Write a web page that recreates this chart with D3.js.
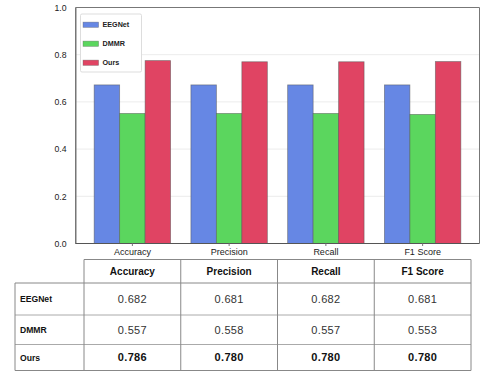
<!DOCTYPE html>
<html>
<head>
<meta charset="utf-8">
<script src="https://cdn.jsdelivr.net/npm/d3@7"></script>
<style>
  body { margin: 0; background: #fff; }
  svg { display: block; }
</style>
</head>
<body>
<svg id="chart" width="499" height="383"></svg>
<script>
const categories = ['Accuracy', 'Precision', 'Recall', 'F1 Score']
const models = ['EEGNet', 'DMMR', 'Ours']
const colors = ['#6687e4', '#5bd65e', '#e04463']

// bar heights as drawn
const barEEGNet = [0.672, 0.672, 0.672, 0.672]
const barDMMR = [0.551, 0.551, 0.551, 0.547]
const barOurs = [0.775, 0.770, 0.770, 0.771]

// numbers in the table below
const tabEEGNet = ['0.682', '0.681', '0.682', '0.681']
const tabDMMR = ['0.557', '0.558', '0.557', '0.553']
const tabOurs = ['0.786', '0.780', '0.780', '0.780']

const yTicks = [0, 0.2, 0.4, 0.6, 0.8, 1.0]

const bars = [barEEGNet, barDMMR, barOurs]
const tab = [tabEEGNet, tabDMMR, tabOurs]

const svg = d3.select('#chart')
const pLeft = 75.5, pRight = 479.5, pTop = 7.5, pBottom = 243.5
const font = 'Liberation Sans, Arial, sans-serif'

const x = d3.scaleBand().domain(categories).range([84, 471]).paddingInner(0.21).paddingOuter(0.105)
const xs = d3.scaleBand().domain(models).range([0, x.bandwidth()])
const y = d3.scaleLinear().domain([0, 1]).range([pBottom, pTop])

// grid
svg.append('g').selectAll('line').data(yTicks.slice(1, -1)).enter().append('line')
  .attr('x1', pLeft).attr('x2', pRight)
  .attr('y1', d => y(d)).attr('y2', d => y(d))
  .attr('stroke', '#ececec').attr('stroke-width', 1)

// bars
const grp = svg.append('g').selectAll('g').data(categories).enter().append('g')
  .attr('transform', d => `translate(${x(d)},0)`)
grp.selectAll('rect').data((c, ci) => models.map((m, mi) => ({m, mi, v: bars[mi][ci]})))
  .enter().append('rect')
  .attr('x', d => xs(d.m))
  .attr('width', xs.bandwidth())
  .attr('y', d => y(d.v))
  .attr('height', d => y(0) - y(d.v))
  .attr('fill', d => colors[d.mi])
  .attr('stroke', '#555').attr('stroke-opacity', 0.6).attr('stroke-width', 0.8)

// frame
svg.append('path')
  .attr('d', `M${pLeft},${pBottom}V${pTop}H${pRight}V${pBottom}`)
  .attr('fill', 'none').attr('stroke', '#777').attr('stroke-width', 1)

// axes
const yAxis = svg.append('g').attr('transform', `translate(${pLeft},0)`)
  .call(d3.axisLeft(y).tickValues(yTicks).tickFormat(d3.format('.1f')).tickSize(0).tickPadding(9))
yAxis.select('.domain').attr('stroke', '#777')
yAxis.selectAll('text').attr('font-family', font).attr('font-size', 8.7).attr('fill', '#222')

const xAxis = svg.append('g').attr('transform', `translate(0,${pBottom})`)
  .call(d3.axisBottom(x).tickSize(2.5).tickPadding(3).tickSizeOuter(0))
xAxis.select('.domain').attr('stroke', '#555').attr('d', `M${pLeft},0H${pRight}`)
xAxis.selectAll('.tick line').attr('stroke', '#777')
xAxis.selectAll('text').attr('font-family', font).attr('font-size', 9).attr('fill', '#222')

// legend
const lg = svg.append('g')
lg.append('rect').attr('x', 80.5).attr('y', 14).attr('width', 61).attr('height', 58).attr('rx', 1.5)
  .attr('fill', '#fff').attr('stroke', '#ddd').attr('stroke-width', 1)
const li = lg.selectAll('g').data(models).enter().append('g')
  .attr('transform', (d, i) => `translate(0,${24.7 + i * 19})`)
li.append('rect').attr('x', 83).attr('y', -2.6).attr('width', 15.6).attr('height', 5.3)
  .attr('fill', (d, i) => colors[i]).attr('stroke', '#666').attr('stroke-opacity', 0.6).attr('stroke-width', 0.6)
li.append('text').attr('x', 102.5).attr('dy', '0.35em').text(d => d)
  .attr('font-family', font).attr('font-weight', 'bold').attr('font-size', 7.2).attr('fill', '#222')

// table
const tx = d3.scaleBand().domain(categories).range([84, 471])
const rowLines = [259.5, 283, 315, 344.5, 370.5]
const tg = svg.append('g')
const line = (x1, y1, x2, y2, c) => tg.append('line').attr('x1', x1).attr('y1', y1).attr('x2', x2).attr('y2', y2)
  .attr('stroke', c || '#888').attr('stroke-width', 1)
line(84, rowLines[0], 471, rowLines[0])
rowLines.slice(1).forEach((ry, i) => line(15, ry, 471, ry, i === 2 || i === 1 ? '#aaa' : '#888'))
line(15, rowLines[1], 15, rowLines[4])
categories.forEach(c => line(tx(c), rowLines[0], tx(c), rowLines[4]))
line(471, rowLines[0], 471, rowLines[4])

tg.selectAll('.hdr').data(categories).enter().append('text')
  .attr('x', d => tx(d) + tx.bandwidth() / 2).attr('y', (rowLines[0] + rowLines[1]) / 2)
  .attr('dy', '0.35em').attr('text-anchor', 'middle')
  .attr('font-family', font).attr('font-weight', 'bold').attr('font-size', 10).attr('fill', '#111')
  .text(d => d)

models.forEach((m, mi) => {
  const cy = (rowLines[mi + 1] + rowLines[mi + 2]) / 2
  tg.append('text').attr('x', 20).attr('y', cy).attr('dy', '0.35em')
    .attr('font-family', font).attr('font-weight', 'bold').attr('font-size', 8.6).attr('fill', '#111')
    .text(m)
  tg.selectAll('.v' + mi).data(categories).enter().append('text')
    .attr('x', d => tx(d) + tx.bandwidth() / 2).attr('y', cy).attr('dy', '0.35em')
    .attr('text-anchor', 'middle')
    .attr('font-family', font).attr('font-size', 11).attr('letter-spacing', 0.3)
    .attr('font-weight', mi === 2 ? 'bold' : 'normal')
    .attr('fill', mi === 2 ? '#111' : '#333')
    .text((d, ci) => tab[mi][ci])
})
</script>
</body>
</html>
